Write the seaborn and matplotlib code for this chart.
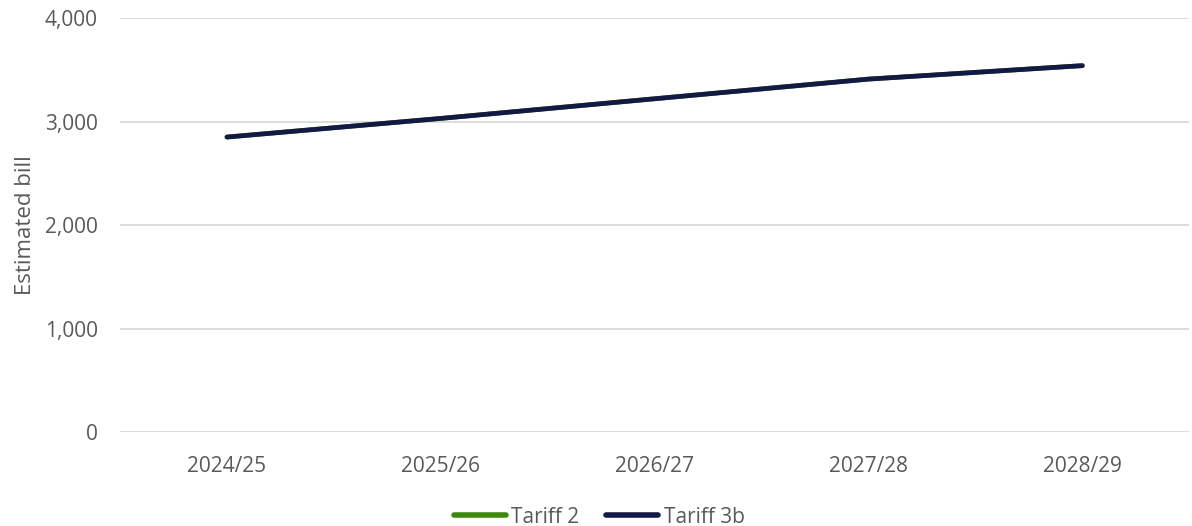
#!/usr/bin/env python3
# Estimated bill by year, two tariffs (Tariff 3b drawn over Tariff 2)

import seaborn as sns
import pandas as pd
import matplotlib.pyplot as plt
from matplotlib.ticker import FuncFormatter

years = ['2024/25', '2025/26', '2026/27', '2027/28', '2028/29']
tariff_2 = [2850, 3030, 3220, 3410, 3540]
tariff_3b = [2850, 3030, 3220, 3410, 3540]

series = ['Tariff 2', 'Tariff 3b']
colors = {'Tariff 2': '#3d8a0f', 'Tariff 3b': '#141845'}

df = pd.concat([
    pd.DataFrame({'Year': years, 'Bill': tariff_2, 'Tariff': 'Tariff 2'}),
    pd.DataFrame({'Year': years, 'Bill': tariff_3b, 'Tariff': 'Tariff 3b'}),
])

sns.set_theme(style='white')
plt.rcParams['font.family'] = ['Open Sans', 'DejaVu Sans']
text_col = '#595959'
fsize = 15

fig = plt.figure(figsize=(11.92, 5.26), dpi=100)
ax = fig.add_axes([0.1007, 0.1787, 0.897, 0.787])

sns.lineplot(data=df, x='Year', y='Bill', hue='Tariff', hue_order=series,
             palette=colors, linewidth=3.4, solid_capstyle='round',
             legend=True, ax=ax)

ax.set_xlim(-0.5, 4.5)
ax.set_ylim(0, 4000)
ax.set_yticks([0, 1000, 2000, 3000, 4000])
ax.yaxis.set_major_formatter(FuncFormatter(lambda v, p: f'{v:,.0f}'))
ax.grid(axis='y', color='#d9d9d9', linewidth=1.3)
ax.set_axisbelow(True)
sns.despine(ax=ax, left=True, bottom=True, top=True, right=True)
ax.tick_params(axis='both', length=0, labelsize=fsize, labelcolor=text_col)
ax.tick_params(axis='y', pad=16)
ax.tick_params(axis='x', pad=17)
ax.set_xlabel('')
ax.set_ylabel('Estimated bill', color=text_col, labelpad=6)
ax.yaxis.label.set_size(fsize + 1)

leg = ax.legend(loc='upper center', bbox_to_anchor=(0.448, -0.135), ncol=2,
                frameon=False, fontsize=fsize, handlelength=2.5,
                handletextpad=0.25, columnspacing=1.3)
for t in leg.get_texts():
    t.set_color(text_col)
for h in leg.get_lines():
    h.set_linewidth(4.0)

fig.savefig('out.png', dpi=100)
